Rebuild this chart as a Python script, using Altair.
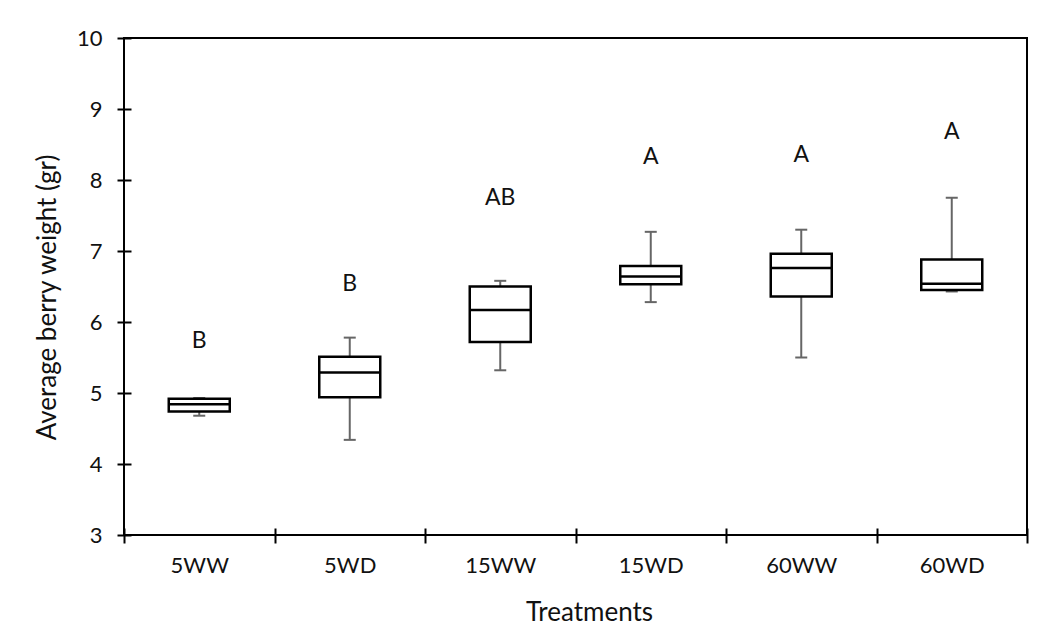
import altair as alt
import pandas as pd

# Berry weight summary per treatment (five-number summary for each box)
treatments = ["5WW", "5WD", "15WW", "15WD", "60WW", "60WD"]
whisker_low = [4.68, 4.34, 5.32, 6.28, 5.50, 6.43]
quartile_1 = [4.74, 4.94, 5.72, 6.53, 6.36, 6.45]
medians = [4.84, 5.29, 6.17, 6.64, 6.76, 6.54]
quartile_3 = [4.92, 5.51, 6.50, 6.79, 6.96, 6.88]
whisker_high = [4.93, 5.78, 6.58, 7.27, 7.30, 7.75]

# Significance groups and the height at which each letter sits
letters = ["B", "B", "AB", "A", "A", "A"]
letter_y = [5.73, 6.53, 7.74, 8.33, 8.35, 8.68]

df = pd.DataFrame({
    "treatment": treatments,
    "lo": whisker_low,
    "q1": quartile_1,
    "med": medians,
    "q3": quartile_3,
    "hi": whisker_high,
    "letter": letters,
    "ly": letter_y,
})

FONT = "Lato"
INK = "#111111"
LABEL_SIZE = 22
TITLE_SIZE = 26
W, H = 903, 497
BOX_W = 61
GREY = "#666666"

x_enc = alt.X(
    "treatment:N",
    sort=treatments,
    scale=alt.Scale(paddingInner=0, paddingOuter=0),
    axis=alt.Axis(
        title="Treatments",
        tickBand="extent",
        labelAngle=0,
        domain=False,
        offset=-7,
        tickSize=15,
        tickWidth=2,
        tickColor="black",
        labelPadding=12,
        labelFontSize=LABEL_SIZE,
        labelFont=FONT,
        labelColor=INK,
        titleFontSize=TITLE_SIZE,
        titleFont=FONT,
        titleFontWeight="normal",
        titleColor=INK,
        titleX=465,
        titleY=84,
        titleBaseline="middle",
        titleAlign="center",
    ),
)

y_scale = alt.Scale(domain=[3, 10], nice=False, zero=False)
y_axis = alt.Axis(
    title="Average berry weight (gr)",
    values=[3, 4, 5, 6, 7, 8, 9, 10],
    format="d",
    grid=False,
    domain=False,
    offset=-7,
    tickSize=14,
    tickWidth=2,
    tickColor="black",
    labelPadding=15,
    labelFontSize=LABEL_SIZE,
    labelFont=FONT,
    labelColor=INK,
    titleFontSize=TITLE_SIZE,
    titleFont=FONT,
    titleFontWeight="normal",
    titleColor=INK,
    titleAngle=-90,
    titleX=-84,
    titleY=259,
    titleAlign="center",
    titleBaseline="middle",
)

base = alt.Chart(df)
x_plain = alt.X("treatment:N", sort=treatments)

whisker = base.mark_rule(color=GREY, strokeWidth=2).encode(
    x=x_enc,
    y=alt.Y("lo:Q", scale=y_scale, axis=y_axis),
    y2="hi:Q",
)

cap_lo = base.mark_tick(
    color=GREY, size=12, thickness=2, orient="horizontal", opacity=1
).encode(x=x_plain, y="lo:Q")
cap_hi = base.mark_tick(
    color=GREY, size=12, thickness=2, orient="horizontal", opacity=1
).encode(x=x_plain, y="hi:Q")

box = base.mark_bar(
    size=BOX_W, fill="white", stroke="black", strokeWidth=2.5, opacity=1
).encode(x=x_plain, y="q1:Q", y2="q3:Q")

median = base.mark_tick(
    color="black", size=BOX_W, thickness=2.5, orient="horizontal", opacity=1
).encode(x=x_plain, y="med:Q")

label = base.mark_text(
    font=FONT, fontSize=23, color=INK, baseline="middle"
).encode(x=x_plain, y="ly:Q", text="letter:N")

chart = (
    alt.layer(whisker, cap_lo, cap_hi, box, median, label)
    .properties(
        width=W,
        height=H,
        autosize=alt.AutoSizeParams(type="none"),
        padding={"left": 124, "top": 38, "right": 22, "bottom": 104},
        background="white",
    )
    .configure_view(stroke="black", strokeWidth=2)
)

chart.save("out.html", embed_options={"renderer": "svg", "actions": False})
